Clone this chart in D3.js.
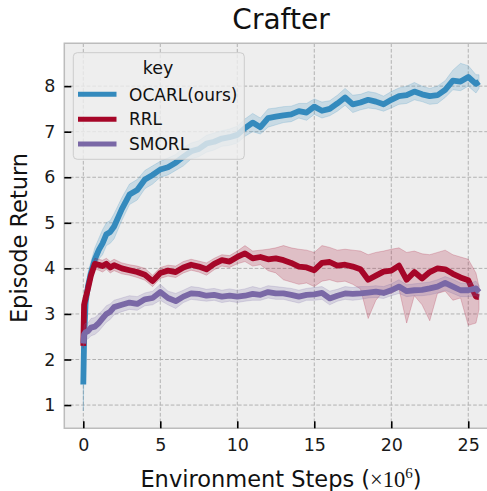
<!DOCTYPE html>
<html>
<head>
<meta charset="utf-8">
<script src="https://cdn.jsdelivr.net/npm/d3@7"></script>
<style>
  body { margin: 0; background: #fff; }
  text { font-family: "DejaVu Sans", sans-serif; }
</style>
</head>
<body>
<script>
// x positions, millions of environment steps
var steps = [0, 0.05, 0.15, 0.3, 0.5, 0.75, 1, 1.25, 1.5, 1.75, 2,
  2.5, 3, 3.5, 4, 4.5, 5, 5.5, 6, 6.5, 7, 7.5, 8, 8.5, 9, 9.5, 10, 10.5, 11, 11.5, 12,
  12.5, 13, 13.5, 14, 14.5, 15, 15.5, 16, 16.5, 17, 17.5, 18, 18.5, 19, 19.5, 20,
  20.5, 21, 21.5, 22, 22.5, 23, 23.5, 24, 24.5, 25, 25.5, 25.7];

var ocarlMean = [1.45, 2.4, 3.25, 3.6, 3.9, 4.2, 4.4, 4.55, 4.75, 4.8, 4.92,
  5.3, 5.62, 5.72, 5.95, 6.05, 6.17, 6.22, 6.32, 6.45, 6.57,
  6.62, 6.74, 6.78, 6.85, 6.88, 6.93, 7.08, 7.2, 7.1, 7.3,
  7.33, 7.36, 7.38, 7.45, 7.42, 7.55, 7.46, 7.5, 7.62, 7.75,
  7.6, 7.64, 7.7, 7.66, 7.6, 7.7, 7.78, 7.8, 7.88, 7.82,
  7.78, 7.8, 7.92, 8.12, 8.1, 8.2, 8.05, 8.1];
var ocarlLo = [0.87, 1.9, 2.9, 3.35, 3.7, 4.0, 4.2, 4.3, 4.5, 4.55, 4.65,
  5.05, 5.4, 5.5, 5.75, 5.85, 6.0, 6.05, 6.15, 6.25, 6.4,
  6.45, 6.55, 6.6, 6.68, 6.7, 6.75, 6.9, 7.0, 6.95, 7.1,
  7.15, 7.2, 7.22, 7.3, 7.25, 7.38, 7.3, 7.35, 7.45, 7.58,
  7.42, 7.48, 7.52, 7.5, 7.45, 7.52, 7.6, 7.62, 7.7, 7.66,
  7.6, 7.62, 7.75, 7.92, 7.9, 8.0, 7.85, 7.95];
var ocarlHi = [2.0, 2.9, 3.6, 3.9, 4.15, 4.45, 4.65, 4.85, 5.0, 5.05, 5.2,
  5.55, 5.85, 5.95, 6.15, 6.25, 6.35, 6.42, 6.5, 6.65, 6.75,
  6.8, 6.92, 6.97, 7.02, 7.06, 7.12, 7.28, 7.4, 7.3, 7.5,
  7.52, 7.55, 7.56, 7.62, 7.62, 7.72, 7.65, 7.68, 7.8, 7.95,
  7.8, 7.82, 7.88, 7.85, 7.78, 7.88, 7.96, 8.0, 8.08, 8.0,
  7.95, 8.0, 8.12, 8.35, 8.5, 8.45, 8.25, 8.25];

var rrlMean = [2.3, 3.2, 3.35, 3.55, 3.85, 4.1, 4.08, 4.05, 4.1, 4.02, 4.07,
  4.0, 3.96, 3.92, 3.86, 3.72, 3.9, 3.95, 3.92, 4.02, 4.08,
  4.04, 3.98, 4.1, 4.18, 4.15, 4.25, 4.33, 4.22, 4.25, 4.2,
  4.22, 4.18, 4.12, 4.04, 4.02, 3.96, 4.12, 4.14, 4.06, 4.08,
  4.04, 3.98, 3.75, 3.84, 3.93, 3.95, 4.06, 3.75, 3.92, 3.78,
  3.92, 4.0, 3.98, 3.88, 3.8, 3.74, 3.38, 3.37];
var rrlLo = [2.25, 3.0, 3.2, 3.45, 3.75, 3.98, 3.96, 3.92, 3.98, 3.9, 3.95,
  3.88, 3.85, 3.8, 3.74, 3.6, 3.78, 3.83, 3.8, 3.9, 3.96,
  3.92, 3.85, 3.97, 4.05, 4.02, 4.1, 4.15, 4.05, 4.08, 3.95,
  3.9, 3.75, 3.7, 3.65, 3.68, 3.6, 3.72, 3.75, 3.7, 3.72,
  3.65, 3.55, 2.9, 3.3, 3.5, 3.45, 3.55, 2.8, 3.4, 3.2,
  2.85, 3.45, 3.5, 3.3, 3.35, 2.75, 2.8, 3.1];
var rrlHi = [2.35, 3.4, 3.5, 3.65, 3.95, 4.22, 4.2, 4.18, 4.22, 4.15, 4.2,
  4.12, 4.08, 4.05, 4.0, 3.85, 4.02, 4.07, 4.05, 4.15, 4.2,
  4.16, 4.12, 4.22, 4.3, 4.28, 4.38, 4.5, 4.38, 4.4, 4.42,
  4.45, 4.5, 4.45, 4.42, 4.4, 4.35, 4.5, 4.46, 4.4, 4.42,
  4.4, 4.38, 4.3, 4.35, 4.38, 4.42, 4.45, 4.35, 4.38, 4.32,
  4.3, 4.35, 4.4, 4.3, 4.25, 4.2, 3.9, 3.6];

var smorlMean = [2.35, 2.55, 2.6, 2.62, 2.7, 2.72, 2.8, 2.9, 3.0, 3.05, 3.15,
  3.2, 3.25, 3.22, 3.32, 3.35, 3.48, 3.35, 3.28, 3.38, 3.45,
  3.44, 3.4, 3.42, 3.38, 3.4, 3.38, 3.4, 3.44, 3.42, 3.48,
  3.45, 3.45, 3.42, 3.38, 3.42, 3.43, 3.46, 3.34, 3.4, 3.45,
  3.44, 3.45, 3.47, 3.49, 3.46, 3.52, 3.6, 3.5, 3.52, 3.53,
  3.56, 3.6, 3.68, 3.6, 3.52, 3.52, 3.56, 3.48];
var smorlLo = [2.25, 2.35, 2.42, 2.45, 2.52, 2.55, 2.62, 2.72, 2.82, 2.88, 2.98,
  3.05, 3.1, 3.08, 3.18, 3.2, 3.3, 3.2, 3.12, 3.25, 3.32,
  3.3, 3.28, 3.3, 3.25, 3.28, 3.25, 3.28, 3.3, 3.3, 3.35,
  3.32, 3.32, 3.28, 3.24, 3.3, 3.3, 3.32, 3.2, 3.28, 3.32,
  3.3, 3.32, 3.35, 3.36, 3.34, 3.4, 3.45, 3.38, 3.4, 3.4,
  3.42, 3.46, 3.52, 3.45, 3.38, 3.38, 3.4, 3.35];
var smorlHi = [2.5, 2.75, 2.8, 2.8, 2.9, 2.92, 3.0, 3.08, 3.18, 3.22, 3.3,
  3.35, 3.4, 3.38, 3.46, 3.5, 3.65, 3.5, 3.45, 3.52, 3.6,
  3.58, 3.54, 3.56, 3.52, 3.55, 3.52, 3.55, 3.6, 3.56, 3.62,
  3.6, 3.58, 3.56, 3.52, 3.56, 3.58, 3.6, 3.5, 3.54, 3.6,
  3.58, 3.6, 3.6, 3.62, 3.6, 3.66, 3.75, 3.64, 3.66, 3.68,
  3.7, 3.75, 3.82, 3.76, 3.68, 3.66, 3.72, 3.62];

var seriesNames = ['OCARL(ours)', 'RRL', 'SMORL'];
var seriesColors = ['#348ABD', '#A60628', '#7A68A6'];
var xTicks = [0, 5, 10, 15, 20, 25];
var yTicks = [1, 2, 3, 4, 5, 6, 7, 8];

var series = [
  {name: seriesNames[0], color: seriesColors[0], mean: ocarlMean, lo: ocarlLo, hi: ocarlHi},
  {name: seriesNames[1], color: seriesColors[1], mean: rrlMean, lo: rrlLo, hi: rrlHi},
  {name: seriesNames[2], color: seriesColors[2], mean: smorlMean, lo: smorlLo, hi: smorlHi}
];

var W = 487, H = 491;
var plot = {left: 64.3, top: 43.3, right: 498.9, bottom: 428.3};

var svg = d3.select('body').append('svg')
  .attr('width', W)
  .attr('height', H)
  .attr('xmlns', 'http://www.w3.org/2000/svg');

var x = d3.scaleLinear().domain([-1.234, 26.99]).range([plot.left, plot.right]);
var y = d3.scaleLinear().domain([0.49, 8.94]).range([plot.bottom, plot.top]);

// Plot background
svg.append('rect')
  .attr('x', plot.left).attr('y', plot.top)
  .attr('width', plot.right - plot.left).attr('height', plot.bottom - plot.top)
  .style('fill', '#eeeeee');

// Grid
var grid = svg.append('g');
grid.selectAll('line.gx').data(xTicks).enter().append('line')
  .attr('x1', function(d){ return x(d); }).attr('x2', function(d){ return x(d); })
  .attr('y1', plot.top).attr('y2', plot.bottom);
grid.selectAll('line.gy').data(yTicks).enter().append('line')
  .attr('y1', function(d){ return y(d); }).attr('y2', function(d){ return y(d); })
  .attr('x1', plot.left).attr('x2', plot.right);
grid.selectAll('line')
  .style('stroke', '#b2b2b2')
  .style('stroke-width', 1)
  .style('stroke-dasharray', '3.7,1.9');

// Bands + mean lines
svg.append('clipPath').attr('id', 'clip').append('rect')
  .attr('x', plot.left).attr('y', plot.top)
  .attr('width', plot.right - plot.left).attr('height', plot.bottom - plot.top);

var marks = svg.append('g').attr('clip-path', 'url(#clip)');

var area = d3.area()
  .x(function(d){ return x(d[0]); })
  .y0(function(d){ return y(d[1]); })
  .y1(function(d){ return y(d[2]); });

var line = d3.line()
  .x(function(d){ return x(d[0]); })
  .y(function(d){ return y(d[1]); });

series.forEach(function(s){
  var band = steps.map(function(t, i){ return [t, s.lo[i], s.hi[i]]; });
  var mean = steps.map(function(t, i){ return [t, s.mean[i]]; });

  marks.append('path')
    .datum(band)
    .attr('d', area)
    .style('fill', s.color)
    .style('fill-opacity', 0.2)
    .style('stroke', s.color)
    .style('stroke-opacity', 0.2)
    .style('stroke-width', 1);

  marks.append('path')
    .datum(mean)
    .attr('d', line)
    .style('fill', 'none')
    .style('stroke', s.color)
    .style('stroke-width', 5.8)
    .style('stroke-linejoin', 'round');
});

// Spines
svg.append('path')
  .attr('d', 'M' + plot.right + ',' + plot.top + 'H' + plot.left + 'V' + plot.bottom + 'H' + plot.right)
  .style('fill', 'none')
  .style('stroke', '#bcbcbc')
  .style('stroke-width', 1.5);

// Axes (ticks point inward)
var xAxis = svg.append('g')
  .attr('transform', 'translate(0,' + plot.bottom + ')')
  .call(d3.axisBottom(x).tickValues(xTicks).tickSizeInner(-7).tickSizeOuter(0).tickPadding(10.5));
var yAxis = svg.append('g')
  .attr('transform', 'translate(' + plot.left + ',0)')
  .call(d3.axisLeft(y).tickValues(yTicks).tickSizeInner(-7).tickSizeOuter(0).tickPadding(9));

[xAxis, yAxis].forEach(function(a){
  a.select('.domain').remove();
  a.selectAll('.tick line').style('stroke', '#000').style('stroke-width', 1.6);
  a.selectAll('.tick text')
    .style('font-family', '"DejaVu Sans", sans-serif')
    .style('font-size', '17.5px')
    .style('fill', '#1a1a1a');
});

// Title and labels
svg.append('text')
  .attr('x', 281).attr('y', 29)
  .style('text-anchor', 'middle')
  .style('font-size', '28px')
  .style('fill', '#111')
  .text('Crafter');

svg.append('text')
  .attr('transform', 'translate(27,238) rotate(-90)')
  .style('text-anchor', 'middle')
  .style('font-size', '22.5px')
  .style('fill', '#111')
  .text('Episode Return');

var xl = svg.append('text')
  .attr('x', 281).attr('y', 486.5)
  .style('text-anchor', 'middle')
  .style('font-size', '22.5px')
  .style('fill', '#111');
xl.append('tspan').text('Environment Steps (');
xl.append('tspan').style('font-family', '"Liberation Serif", serif').text('\u00d710');
xl.append('tspan').style('font-family', '"Liberation Serif", serif')
  .style('font-size', '15px').attr('dy', -9).text('6');
xl.append('tspan').attr('dy', 9).text(')');

// Legend
var legend = svg.append('g');
legend.append('rect')
  .attr('x', 73.3).attr('y', 52.7)
  .attr('width', 171).attr('height', 106.6)
  .attr('rx', 4)
  .style('fill', '#eeeeee')
  .style('fill-opacity', 0.8)
  .style('stroke', '#cccccc')
  .style('stroke-width', 1);

legend.append('text')
  .attr('x', 158).attr('y', 73.5)
  .style('text-anchor', 'middle')
  .style('font-size', '17.5px')
  .style('fill', '#111')
  .text('key');

var items = legend.selectAll('g.item')
  .data(series)
  .enter()
  .append('g')
    .attr('transform', function(d, i){ return 'translate(0,' + (94.3 + i * 24.85) + ')'; });

items.append('line')
  .attr('x1', 78).attr('x2', 116.5)
  .style('stroke', function(d){ return d.color; })
  .style('stroke-width', 5);

items.append('text')
  .attr('x', 129).attr('y', 6.2)
  .style('font-size', '17px')
  .style('fill', '#111')
  .text(function(d){ return d.name; });
</script>
</body>
</html>
